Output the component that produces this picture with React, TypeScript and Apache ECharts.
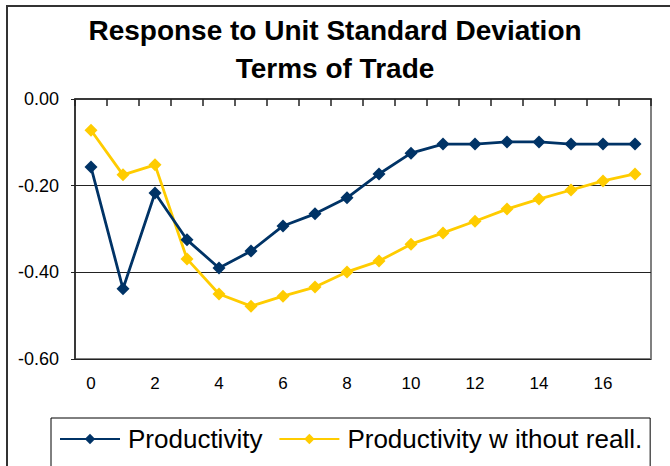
import React, { useEffect, useRef } from "react";
import * as echarts from "echarts";

const categories = ["0","1","2","3","4","5","6","7","8","9","10","11","12","13","14","15","16","17"];
const productivity = [-0.157,-0.438,-0.217,-0.325,-0.39,-0.351,-0.293,-0.265,-0.228,-0.173,-0.125,-0.104,-0.104,-0.099,-0.099,-0.104,-0.104,-0.104];
const productivityNoReall = [-0.072,-0.175,-0.152,-0.369,-0.45,-0.478,-0.455,-0.434,-0.399,-0.374,-0.335,-0.309,-0.282,-0.254,-0.231,-0.21,-0.189,-0.173];
const seriesNames = ["Productivity", "Productivity w ithout reall."];
const titleLines = ["Response to Unit Standard Deviation", "Terms of Trade"];

const FONT = "'Liberation Sans', Arial, sans-serif";

export default function App() {
  const ref = useRef<HTMLDivElement>(null);
  useEffect(() => {
    if (!ref.current) return;
    const chart = echarts.init(ref.current, null, { renderer: "svg" });
    chart.setOption({
      animation: false,
      backgroundColor: "#fff",
      textStyle: { fontFamily: FONT },
      title: {
        text: titleLines.join("\n"),
        left: "center",
        top: 6,
        textStyle: { fontFamily: FONT, fontWeight: "bold", fontSize: 28, lineHeight: 38, color: "#000" },
      },
      graphic: [
        {
          type: "rect",
          shape: { x: 7, y: 6, width: 720, height: 520 },
          style: { fill: "none", stroke: "#333", lineWidth: 2 },
          silent: true,
          z: 100,
        },
      ],
      legend: {
        left: 51,
        top: 418,
        padding: [8, 8, 30, 8],
        borderColor: "#000",
        borderWidth: 1,
        itemWidth: 60,
        itemHeight: 13,
        itemGap: 16,
        textStyle: { fontFamily: FONT, fontSize: 26, color: "#000", padding: [0, 0, 0, 3] },
        data: seriesNames,
      },
      grid: {
        left: 75,
        right: 19,
        top: 99,
        bottom: 107,
        show: true,
        borderColor: "#808080",
        borderWidth: 2,
        containLabel: false,
      },
      xAxis: [
        {
          type: "category",
          data: categories,
          position: "bottom",
          boundaryGap: true,
          axisLine: { show: true, lineStyle: { color: "#808080", width: 2 } },
          axisTick: { show: false },
          axisLabel: { interval: 1, fontSize: 17, color: "#000", margin: 16, fontFamily: FONT },
          splitLine: { show: false },
        },
        {
          type: "category",
          data: categories,
          position: "top",
          boundaryGap: true,
          axisLine: { show: true, lineStyle: { color: "#222", width: 1.5 } },
          axisTick: { show: true, inside: true, length: 7, lineStyle: { color: "#222", width: 1.5 } },
          axisLabel: { show: false },
          splitLine: { show: false },
        },
      ],
      yAxis: {
        type: "value",
        min: -0.6,
        max: 0,
        interval: 0.2,
        axisLine: { show: true, lineStyle: { color: "#222", width: 1.5 } },
        axisTick: { show: true, length: 4, lineStyle: { color: "#222" } },
        axisLabel: {
          fontSize: 18,
          color: "#000",
          margin: 16,
          fontFamily: FONT,
          formatter: (v: number) => v.toFixed(2),
        },
        splitLine: { show: true, lineStyle: { color: "#222", width: 1 } },
      },
      series: [
        {
          name: seriesNames[0],
          type: "line",
          data: productivity,
          symbol: "diamond",
          symbolSize: 13,
          lineStyle: { color: "#003366", width: 2.8 },
          itemStyle: { color: "#003366" },
          z: 3,
        },
        {
          name: seriesNames[1],
          type: "line",
          data: productivityNoReall,
          symbol: "diamond",
          symbolSize: 13,
          lineStyle: { color: "#FFCC00", width: 2.8 },
          itemStyle: { color: "#FFCC00" },
          z: 2,
        },
      ],
    });
    return () => chart.dispose();
  }, []);
  return <div ref={ref} style={{ width: 670, height: 466, position: "absolute", left: 0, top: 0 }} />;
}
